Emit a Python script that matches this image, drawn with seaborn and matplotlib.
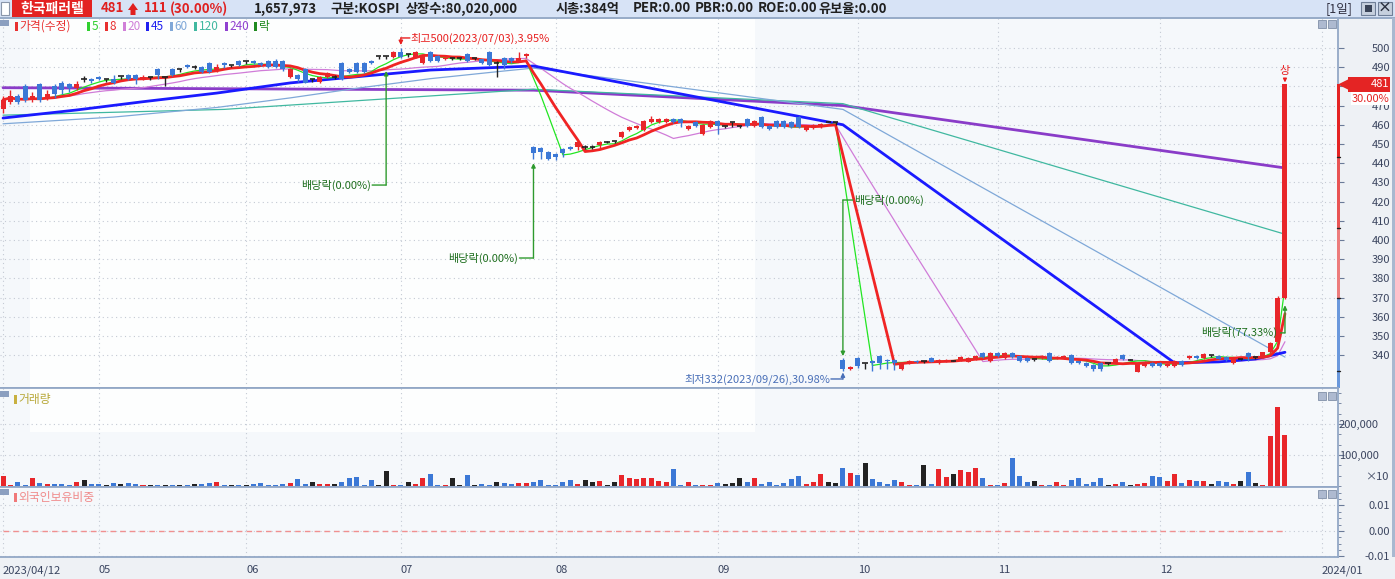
import numpy as np
import pandas as pd
import seaborn as sns
from matplotlib import pyplot as plt
from matplotlib.patches import Rectangle, Polygon
from matplotlib.ticker import MultipleLocator
from matplotlib.transforms import blended_transform_factory

# daily candles 2023/04/12 .. 2023/12/28
opens = [
    468, 472, 475, 480, 473, 481, 474, 480, 482, 481,
    479, 484, 484, 485, 484, 484, 485.5, 486, 486, 484,
    485, 489, 485, 489, 489, 491, 490, 490, 492, 488,
    492, 491, 493, 493, 493, 492, 493,
    493, 493, 485, 486, 489, 484, 482.5, 485, 485, 492,
    489, 492, 492, 493, 496, 496, 495.5, 498, 497, 495.5,
    492, 498, 496, 494, 495, 495, 497, 495, 494, 498,
    492, 495, 495, 493, 496,
    448.4, 448, 446, 445, 447.4, 448.4, 448.4, 448.4, 448.4, 449.5,
    451, 451.6, 453.6, 457.3, 458.3, 457.3, 461.5, 461.5, 461.5, 463,
    463, 458, 461.5, 455, 459, 462, 459.4, 461.5, 459.4, 463,
    459.4, 464, 459.4, 462, 462, 461.5, 464, 457.3, 458.3, 459,
    461.5, 461.5,
    337.5, 333, 338.5, 336, 337, 339.6, 337.5, 337.5, 333, 336,
    337, 337, 338.5, 336, 336.7, 337.2, 337.5, 336.7, 338, 341,
    337, 341, 338.5, 341, 339.6, 338.5, 338, 338.4, 341, 338.4,
    338.4, 340, 336.8, 336, 335, 336, 336, 335.7, 340, 337.7,
    331.3, 334.5, 336, 336, 334.5, 334.5, 337, 338.4, 339.6, 338.4,
    340, 339.5, 339.2, 335.7, 337.8, 341, 339.2, 339, 341.8, 347,
    370,
]
closes = [
    473, 475, 472, 473, 475, 473, 476, 476, 478, 479,
    481, 484, 483, 484, 484, 482, 485.5, 484, 484, 485,
    485, 486, 485, 486, 489, 490, 490, 487.5, 487.5, 490,
    491, 491, 491, 493, 492, 491, 490,
    490, 489, 489, 484, 482, 484, 485, 487, 485, 484,
    487.5, 487.5, 487.5, 492, 496, 496, 498, 495.5, 497, 498,
    496, 493, 493, 495, 495, 495, 493, 495, 492, 491,
    492, 491, 493, 495, 497,
    445.3, 446, 442, 443, 445.3, 447.4, 451, 448.4, 448.4, 451,
    451, 451.6, 456, 459, 459.4, 462, 463, 463, 463, 461.5,
    461, 459.4, 459.4, 460, 462, 459.4, 459.4, 461.5, 459.4, 459.4,
    462, 459, 458, 459, 459, 459, 459, 459, 460, 460.5,
    461.5, 461.5,
    332.8, 334, 334.4, 336, 336, 336, 337, 336, 336, 337,
    336.2, 337, 336.7, 337.5, 337.5, 337.2, 339, 338.5, 339.6, 339,
    341, 339.6, 341, 339, 337, 337, 338, 339.6, 337, 339,
    339.6, 336, 335.8, 334.5, 333, 332.8, 336, 338, 338, 337.7,
    335.4, 336.5, 334.5, 334.2, 335.5, 337, 335, 339.6, 338.4, 340.6,
    340, 338.2, 337.5, 338, 337.8, 339, 339.2, 341.4, 346.4, 370,
    481,
]
highs = [
    475, 478, 476, 481, 477, 482, 478, 481, 483, 482,
    483, 485.5, 484.5, 485.5, 484, 486, 485.5, 486.5, 486.5, 486,
    485, 489.5, 485, 489.5, 489, 491.5, 491, 490.5, 492.5, 491.5,
    492.5, 491, 493.5, 493, 493.5, 492.5, 493.5,
    494, 493.5, 489.5, 486.5, 489.5, 484, 485.5, 487.5, 486, 492.5,
    489.5, 492.5, 492.5, 493.5, 496, 496, 498.5, 500, 497, 498.5,
    496.5, 498.5, 496.5, 495.5, 495, 495, 497.5, 495, 494.5, 498.5,
    493, 495.5, 495.5, 498, 497.5,
    448.8, 448.5, 446.5, 445.5, 447.8, 448.8, 451.5, 449.5, 449.5, 451.5,
    451.3, 451.6, 456.5, 459.5, 460, 462.5, 464.5, 463.5, 463.5, 463.5,
    463.5, 460, 462, 460.5, 462.5, 462.5, 459.4, 461.5, 459.4, 463.5,
    462.5, 464.5, 459.8, 462.5, 462.5, 462, 464.5, 459.5, 460.5, 461,
    461.7, 461.5,
    338.5, 334.5, 339, 336, 337.5, 340, 338, 338, 336.5, 337.5,
    337.5, 337, 339, 338, 338, 337.4, 339.5, 339, 340, 341.5,
    341.5, 341.5, 341.5, 341.5, 340, 339, 338, 340, 341.5, 339.5,
    340, 340.5, 337.2, 336.5, 335.5, 336.5, 336, 338.5, 340.5, 338,
    335.8, 337, 336.5, 336.5, 336, 337.5, 337.5, 340, 340, 341,
    340, 340, 339.7, 338.5, 338, 341.5, 339.2, 341.8, 347, 371,
    481,
]
lows = [
    466, 471, 471, 472, 472, 472, 473, 474, 476, 477,
    478, 482.5, 482, 483.5, 482.5, 481, 484, 483.5, 481, 483.5,
    483.5, 484, 480, 485.5, 487.5, 489.5, 489, 487, 487, 487.5,
    489.5, 490, 490.5, 491.5, 491.5, 490.5, 489.5,
    489.5, 488, 484.5, 482.5, 481.5, 482.5, 482, 484.5, 484, 483.5,
    487, 487, 487, 491.5, 494, 494, 495, 495, 495.5, 495,
    491.5, 492.5, 492.5, 493.5, 493.5, 493.5, 492.5, 493.5, 491.5, 490.5,
    485, 489, 492, 492.5, 495,
    442, 442, 441.5, 441.5, 443, 446.8, 447, 447.5, 447.5, 448,
    450.7, 450.5, 453, 457, 458, 457, 461, 461, 461, 461,
    459, 457.5, 459, 454.5, 458.5, 455, 458.5, 459, 458.5, 459,
    459, 458.5, 457.5, 458.5, 458.5, 458.5, 458.5, 457, 458, 458.5,
    461.3, 460,
    332, 332.5, 333.5, 333, 332, 333, 333, 332.5, 332.5, 335.5,
    335.8, 336, 336.2, 335.5, 336.2, 337, 337, 336.2, 337.5, 338.5,
    336.5, 339, 338, 338.5, 336.5, 336.5, 337, 338, 336.5, 338,
    338, 335.5, 335.3, 334, 332, 331.5, 335, 335.3, 337.5, 337.4,
    331, 334, 334, 333.8, 334, 334, 334.5, 338, 338, 338,
    339, 337.8, 337, 335.3, 337.5, 337, 338, 338.5, 341, 347,
    369,
]
volumes = [
    32000, 3000, 13000, 3000, 26000, 10000, 6500, 6500, 6500, 3000,
    13000, 19000, 6500, 6500, 3000, 10000, 6500, 10000, 6500, 3000,
    3000, 3000, 3000, 3000, 3000, 3000, 6500, 6500, 10000, 13000,
    3000, 3000, 3000, 3000, 6500, 10000, 3000, 3000, 6500, 10000,
    22600, 6500, 13000, 6500, 6500, 6500, 13000, 26000, 29000, 3000,
    19000, 3000, 48000, 3000, 3000, 13000, 6500, 26000, 39000, 3000,
    3000, 26000, 3000, 35000, 3000, 6500, 3000, 13000, 10000, 6500,
    10000, 10000, 13000, 19000, 3000, 3000, 13000, 19000, 6500, 19000,
    13000, 16000, 3000, 13000, 35000, 26000, 22600, 26000, 26000, 16000,
    13000, 55000, 3000, 13000, 3000,
    3000, 3000, 10000, 6500, 10000, 26000, 13000, 26000, 6500, 13000,
    3000, 10000, 22600, 32000, 6500, 13000, 39000, 13000, 10000, 58000,
    42000, 35000, 74000, 22600, 13000, 6500, 19000, 13000, 3000, 3000,
    68000, 6500, 55000, 29000, 39000, 52000, 45000, 58000, 26000, 3000,
    3000, 10000, 90000, 32000, 13000, 16000, 3000, 3000, 13000, 3000,
    19000, 26000, 6500, 13000, 26000, 3000, 6500, 13000, 3000, 6500,
    10000, 32000, 29000, 16000, 39000, 10000, 19000, 16000, 16000, 6500,
    16000, 13000, 6500, 16000, 45000, 10000, 3000, 161000, 255000, 164000,
]
foreign_ratio = 0.00

# long moving averages need history before the window, read as vertices
ma45_days = [0, 10, 19, 29, 39, 48, 58, 68, 72, 114, 159, 165, 170, 174]
ma45_vals = [463.5, 467.7, 472.0, 476.5, 481.8, 485.0, 488.5, 490.0, 490.6,
             460.0, 336.0, 336.5, 338.0, 341.5]
ma60_days = [0, 15, 29, 39, 48, 58, 68, 72, 114, 174]
ma60_vals = [460.5, 464.0, 469.0, 474.0, 479.0, 484.0, 488.0, 489.5, 468.0, 339.0]
ma120_days = [0, 30, 72, 114, 174]
ma120_vals = [465.0, 468.0, 478.5, 471.0, 403.0]
ma240_days = [0, 72, 114, 174]
ma240_vals = [479.3, 478.0, 470.0, 437.5]

month_pos = [0, 13, 33, 54, 75, 97, 116, 135, 157, 179]
month_labels = ["2023/04/12", "05", "06", "07", "08", "09", "10", "11", "12", "2024/01"]

ex_div_days = [52, 72, 114, 174]
ex_div_targets = [488.0, 440.0, 339.5, 366.0]
ex_div_text_y = [428.6, 390.6, 420.8, 351.6]
ex_div_labels = ["배당락(0.00%)", "배당락(0.00%)", "배당락(0.00%)", "배당락(77.33%)"]

high_day, high_price = 54, 500
high_label = "최고500(2023/07/03),3.95%"
low_day, low_price = 114, 332
low_label = "최저332(2023/09/26),30.98%"

side_levels = [481, 443, 406, 370, 332]

UP, DOWN, FLAT = "#e8262a", "#3b78d6", "#222222"
W, H = 1395, 579
PANEL_R = 1338

sns.set_style("white")
plt.rcParams["font.family"] = ["Noto Sans CJK KR", "DejaVu Sans"]
plt.rcParams["axes.unicode_minus"] = False

fig = plt.figure(figsize=(W / 100, H / 100), dpi=100, facecolor="#eef1f5")


def fx(px):
    return px / W


def fy(py):
    return 1 - py / H


def fig_rect(x0, y0, x1, y1, **kw):
    fig.add_artist(Rectangle((fx(x0), fy(y1)), fx(x1 - x0), (y1 - y0) / H,
                             transform=fig.transFigure, **kw))


def fig_text(x, y, s, **kw):
    fig.text(fx(x), fy(y), s, va="center", **kw)


def panel(top, bottom):
    return fig.add_axes([0, fy(bottom), fx(PANEL_R), (bottom - top) / H])


ax_p = panel(18, 388)
ax_v = panel(388, 487)
ax_f = panel(487, 557)

days = np.arange(len(closes))
o = np.array(opens)
c = np.array(closes)
colors = np.where(c > o, UP, np.where(c < o, DOWN, FLAT))
flat = c == o

for ax in (ax_p, ax_v, ax_f):
    ax.set_facecolor("#f5f8fb")
    ax.set_xlim(-0.41, 181.2)
    for sp in ax.spines.values():
        sp.set_color("#93a8c6")
        sp.set_linewidth(1.3)
    ax.spines["left"].set_visible(False)
    ax.set_xticks(month_pos)
    ax.grid(True, color="#c4cad4", linestyle=(0, (1, 3)), linewidth=0.8)
    ax.set_axisbelow(True)
    ax.tick_params(axis="x", length=0, labelbottom=False)
    ax.yaxis.tick_right()
    ax.tick_params(axis="y", which="both", colors="#6a7a98", labelcolor="#3c4660",
                   labelsize=8, direction="out", length=4)
    ax.tick_params(axis="y", which="minor", length=2.5)

# pale window left of the chart
for ax in (ax_p, ax_v):
    ax.add_patch(Rectangle((fx(30), fy(432)), fx(725), (432 - 18) / H,
                           transform=fig.transFigure, facecolor="#fdfefe",
                           edgecolor="none", zorder=0.3))

# ---- price panel ----
ax_p.set_ylim(322.9, 515.6)
price_ticks = list(range(340, 501, 10))
ax_p.set_yticks(price_ticks)
# 480 sits under the last-price box, so it is left blank
ax_p.set_yticklabels(["" if t == 480 else str(t) for t in price_ticks], ha="right")
ax_p.tick_params(axis="y", pad=33.8)

close_s = pd.Series(closes)
ma_df = pd.DataFrame({
    "day": days,
    "ma5": close_s.rolling(5, min_periods=1).mean(),
    "ma8": close_s.rolling(8, min_periods=1).mean(),
    "ma20": close_s.rolling(20, min_periods=1).mean(),
})

sns.lineplot(x=ma240_days, y=ma240_vals, ax=ax_p, color="#8a3cc8", linewidth=2.0, zorder=2)
sns.lineplot(x=ma120_days, y=ma120_vals, ax=ax_p, color="#40b8a0", linewidth=0.9, zorder=2)
sns.lineplot(x=ma60_days, y=ma60_vals, ax=ax_p, color="#7fa8d8", linewidth=0.9, zorder=2)
sns.lineplot(data=ma_df, x="day", y="ma20", ax=ax_p, color="#d07cd8", linewidth=0.9,
             estimator=None, zorder=2)
sns.lineplot(x=ma45_days, y=ma45_vals, ax=ax_p, color="#1a1aff", linewidth=2.0, zorder=2)
sns.lineplot(data=ma_df, x="day", y="ma5", ax=ax_p, color="#22e622", linewidth=0.9,
             estimator=None, zorder=2)
sns.lineplot(data=ma_df, x="day", y="ma8", ax=ax_p, color="#f02424", linewidth=2.0,
             estimator=None, zorder=2)

ax_p.vlines(days, lows, highs, colors=colors, linewidth=1, zorder=3)
ax_p.bar(days[~flat], np.abs(c - o)[~flat], bottom=np.minimum(o, c)[~flat], width=0.68,
         color=colors[~flat], linewidth=0, zorder=4)
ax_p.hlines(o[flat], days[flat] - 0.36, days[flat] + 0.36, colors=FLAT, linewidth=1.2, zorder=4)
ax_p.set_xlabel("")
ax_p.set_ylabel("")


def bracket(ax, day, target, ty, label, side, color, tcolor, gap=12):
    sign = -1 if side == "left" else 1
    ax.annotate("", xy=(day, ty), xytext=(sign * gap * 0.72, 0), textcoords="offset points",
                arrowprops=dict(arrowstyle="-", color=color, lw=1, shrinkA=0, shrinkB=0))
    ax.annotate("", xy=(day, target), xytext=(day, ty),
                arrowprops=dict(arrowstyle="-|>", color=color, lw=1, shrinkA=0, shrinkB=0,
                                mutation_scale=6))
    ax.annotate(label, xy=(day, ty), xytext=(sign * (gap + 1) * 0.72, 0),
                textcoords="offset points", ha="right" if side == "left" else "left",
                va="center", color=tcolor, fontsize=8, zorder=6)


sides = ["left", "left", "right", "left"]
gaps = [14, 14, 10, 7]
for d, t, ty, lab, sd, g in zip(ex_div_days, ex_div_targets, ex_div_text_y, ex_div_labels,
                                sides, gaps):
    bracket(ax_p, d, t, ty, lab, sd, "#2e9a2e", "#1f6f1f", g)
bracket(ax_p, high_day, high_price + 1.5, high_price + 5.2, high_label, "right",
        "#e82020", "#e82020", 9)
bracket(ax_p, low_day, low_price - 1.0, low_price - 4.4, low_label, "left",
        "#4a70b8", "#4a70b8", 12)

ax_p.annotate("상", xy=(days[-1], highs[-1] + 1), xytext=(days[-1], highs[-1] + 7),
              ha="center", va="center", color="#e82020", fontsize=8,
              arrowprops=dict(arrowstyle="-|>", color="#e82020", lw=1, shrinkA=4, shrinkB=0,
                              mutation_scale=5))

# price-range strip and last price boxes on the right axis
blend = blended_transform_factory(ax_p.transAxes, ax_p.transData)
strip_cols = ["#e42424", "#e85454", "#ec7c7c", "#6a98dc"]
bounds = side_levels[:4] + [322.9]
for top, bot, col in zip(bounds[:-1], bounds[1:], strip_cols):
    ax_p.add_patch(Rectangle((1 - 1.5 / PANEL_R, bot), 3.5 / PANEL_R, top - bot, transform=blend,
                             facecolor=col, edgecolor="none", clip_on=False, zorder=7))
for lvl in side_levels[1:]:
    ax_p.plot([1 - 1.5 / PANEL_R, 1 + 2 / PANEL_R], [lvl, lvl], transform=blend, color="#222",
              lw=1, clip_on=False, zorder=8)

last = closes[-1]
ax_p.plot([1 + 6 / PANEL_R], [last], transform=blend, marker="<", ms=7, color="#e42424",
          clip_on=False, zorder=8)
ax_p.add_patch(Rectangle((1 + 10 / PANEL_R, last - 3.9), 42 / PANEL_R, 7.8, transform=blend,
                         facecolor="#e42424", edgecolor="none", clip_on=False, zorder=8))
ax_p.text(1 + 51 / PANEL_R, last, str(last), transform=blend, ha="right", va="center",
          color="white", fontsize=8, zorder=9, clip_on=False)
ax_p.add_patch(Rectangle((1 + 13 / PANEL_R, last - 10.9), 39 / PANEL_R, 7.0, transform=blend,
                         facecolor="white", edgecolor="none", clip_on=False, zorder=8))
ax_p.text(1 + 51 / PANEL_R, last - 7.4, "30.00%", transform=blend, ha="right", va="center",
          color="#e42424", fontsize=8, zorder=9, clip_on=False)

# ---- volume panel ----
ax_v.bar(days, volumes, width=0.68, color=colors, linewidth=0, zorder=3)
ax_v.set_ylim(-3200, 316000)
ax_v.set_yticks([100000, 200000])
ax_v.set_yticklabels(["100,000", "200,000"], ha="right")
ax_v.yaxis.set_minor_locator(MultipleLocator(100000 / 3))
ax_v.tick_params(axis="y", pad=25.2)
fig_text(1388, 477, "×10", ha="right", color="#3c4660", fontsize=8)

# ---- foreign ownership panel ----
ax_f.hlines(foreign_ratio, days[0], days[-1], colors="#f09090", linestyles=(0, (4, 3)),
            linewidth=1, zorder=3)
ax_f.set_ylim(-0.0102, 0.0172)
ax_f.set_yticks([0.01, 0.0, -0.01])
ax_f.set_yticklabels(["0.01", "0.00", "-0.01"], ha="right")
ax_f.yaxis.set_minor_locator(MultipleLocator(0.0025))
ax_f.tick_params(axis="y", pad=33.1)
ax_f.set_xticklabels(month_labels, ha="left")
ax_f.tick_params(axis="x", length=5, labelbottom=True, direction="out", colors="#7a8aa8",
                 labelcolor="#3a4560", labelsize=8, pad=1)

# ---- header bar ----
fig_rect(0, 0, W, 17, facecolor="#d7e3f6", edgecolor="none")
fig_rect(0, 17, W, 18.5, facecolor="#98acc8", edgecolor="none")
fig_rect(1, 2, 9, 15, facecolor="white", edgecolor="#8a96aa", linewidth=0.8)
fig_rect(12, 0, 92, 17, facecolor="#e32222", edgecolor="none")
fig_text(52, 8.5, "한국패러렐", ha="center", color="white", fontsize=10, fontweight="bold")
fig_text(101, 8.5, "481", color="#e02020", fontsize=9.5, fontweight="bold")
fig.add_artist(Polygon([(fx(x), fy(y)) for x, y in
                        [(128, 10), (133, 3), (138, 10), (135.5, 10), (135.5, 15),
                         (130.5, 15), (130.5, 10)]],
                       transform=fig.transFigure, facecolor="#e02020", edgecolor="none"))
fig_text(144, 8.5, "111", color="#e02020", fontsize=9.5, fontweight="bold")
fig_text(170, 8.5, "(30.00%)", color="#e02020", fontsize=9.5, fontweight="bold")
header = [("1,657,973", 254), ("구분:KOSPI", 330), ("상장수:80,020,000", 406),
          ("시총:384억", 556), ("PER:0.00", 633), ("PBR:0.00", 695), ("ROE:0.00", 758),
          ("유보율:0.00", 818)]
for s, x in header:
    fig_text(x, 8.5, s, color="#202020", fontsize=9.5, fontweight="bold")
fig_text(1326, 8.5, "[1일]", color="#303040", fontsize=9)
for x0 in (1361, 1378):
    fig_rect(x0, 2, x0 + 14, 15, facecolor="#c6d0de", edgecolor="#6f7f98", linewidth=0.8)
fig_rect(1364.5, 5.5, 1371.5, 11.5, facecolor="#3a4458", edgecolor="none")
fig_text(1385, 8.5, "×", ha="center", color="#2a3040", fontsize=10, fontweight="bold")

# right side border
fig_rect(1392, 18, 1395, 557, facecolor="#a8b8d0", edgecolor="none")

# panel titles and small buttons
legend = [("가격(수정)", 15, "#e83030", "#e83030"), ("5", 87, "#30d030", "#30d030"),
          ("8", 105, "#e83030", "#e83030"), ("20", 123, "#d080d8", "#d080d8"),
          ("45", 146, "#2020f0", "#2020f0"), ("60", 170, "#80a8d8", "#80a8d8"),
          ("120", 194, "#40b8a0", "#40b8a0"), ("240", 225, "#9040d0", "#9040d0"),
          ("락", 254, "#208a20", "#208a20")]
for s, x, bc, tc in legend:
    fig_rect(x, 22, x + 3, 31, facecolor=bc, edgecolor="none")
    fig_text(x + 4.5, 26.5, s, color=tc, fontsize=8.5)
fig_rect(14, 395, 17, 404, facecolor="#c8b040", edgecolor="none")
fig_text(18.5, 399.5, "거래량", color="#b8a838", fontsize=8.5)
fig_rect(14, 493, 17, 502, facecolor="#f07878", edgecolor="none")
fig_text(18.5, 497.5, "외국인보유비중", color="#f08a8a", fontsize=8.5)
for top in (20, 391, 489):
    fig_rect(0, top, 9, top + 6, facecolor="#8b9fc0", edgecolor="none")
for top in (20, 392, 490):
    fig_rect(1318, top, 1326, top + 8, facecolor="#aebad0", edgecolor="#8090a8", linewidth=0.6)
    fig_rect(1328, top, 1336, top + 8, facecolor="#aebad0", edgecolor="#8090a8", linewidth=0.6)

fig.savefig("out.png", dpi=100, facecolor=fig.get_facecolor())
